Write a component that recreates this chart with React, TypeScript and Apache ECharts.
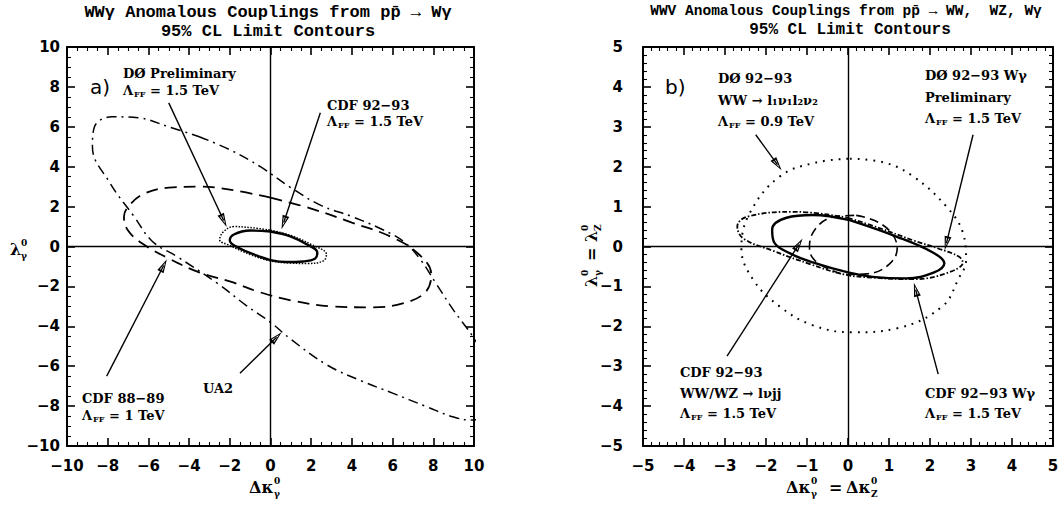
import React, { useEffect, useRef } from 'react';
import * as echarts from 'echarts';

const BLACK = '#000';
const SERIF = '"DejaVu Serif", serif';
const MONO = '"Liberation Mono", monospace';
const SANS = '"DejaVu Sans", sans-serif';

// ---- Panel a: WWγ couplings (Δκγ, λγ) ----
const d0PrelimContour: number[][] = [
  [0, 0.75], [1.0, 0.5], [1.8, 0.1], [2.3, -0.3], [2.2, -0.6], [1.6, -0.75], [0.8, -0.78],
  [0, -0.68], [-0.6, -0.48], [-1.5, -0.1], [-2.0, 0.3], [-1.8, 0.6], [-1.0, 0.8], [0, 0.75],
];
const cdf9293Contour: number[][] = [
  [0, 0.82], [1.0, 0.55], [2.0, 0.1], [2.75, -0.4], [2.6, -0.72], [1.8, -0.85], [1.0, -0.83],
  [0, -0.72], [-1.0, -0.4], [-2.0, 0.05], [-2.5, 0.35], [-2.3, 0.75], [-1.8, 1.0], [-1.0, 0.95], [0, 0.82],
];
const cdf8889Contour: number[][] = [
  [0, 2.45], [2.0, 1.9], [4.0, 1.2], [6.0, 0.45], [7.3, -0.4], [7.9, -1.4], [7.6, -2.3],
  [6.5, -2.85], [5.0, -3.05], [3.0, -3.0], [1.0, -2.7], [-0.5, -2.3], [-2.0, -1.75], [-3.5, -1.3],
  [-5.0, -0.6], [-6.3, 0.15], [-7.0, 0.8], [-7.2, 1.5], [-6.9, 2.1], [-6.2, 2.65], [-5.0, 2.95],
  [-3.5, 3.0], [-2.0, 2.85], [0, 2.45],
];
const ua2Contour: number[][] = [
  [-3.5, 5.5], [-2.0, 4.85], [-0.5, 4.0], [1.0, 2.95], [2.5, 2.05], [4.0, 1.5], [5.5, 0.85],
  [6.6, 0.2], [7.4, -0.7], [8.1, -1.8], [9.0, -3.2], [10.0, -4.6], [10.7, -5.9], [11.0, -7.3],
  [10.6, -8.4], [9.9, -8.7], [9.0, -8.55], [7.6, -8.0], [6.0, -7.35], [4.5, -6.75], [2.8, -5.95],
  [1.0, -4.65], [0, -3.8], [-1.2, -2.95], [-2.6, -1.85], [-4.6, -0.5], [-5.8, 0.25], [-6.7, 1.5],
  [-7.9, 3.2], [-8.75, 5.0], [-8.65, 6.0], [-7.8, 6.5], [-6.5, 6.45], [-5.0, 6.0], [-3.5, 5.5],
];
// arrows: [from, to]
const arrowsA: number[][][] = [
  [[-5.0, 7.2], [-2.3, 1.3]],
  [[2.45, 6.7], [0.65, 1.2]],
  [[-8.05, -6.5], [-5.25, -0.95]],
  [[-1.5, -6.35], [0.3, -4.55]],
];

// ---- Panel b: WWV couplings (Δκ, λ) ----
const d0WWContour: number[][] = [
  [0.05, 2.2], [0.9, 2.1], [1.6, 1.75], [2.4, 1.0], [2.8, 0.35], [2.88, -0.35], [2.7, -0.8],
  [2.3, -1.5], [1.2, -2.05], [0.1, -2.15], [-0.87, -1.97], [-1.67, -1.5], [-2.3, -0.85],
  [-2.6, -0.05], [-2.4, 0.83], [-1.67, 1.75], [-0.8, 2.1], [0.05, 2.2],
];
const d0WgContour: number[][] = [
  [0.04, 0.66], [1.18, 0.25], [2.07, -0.15], [2.35, -0.42], [2.1, -0.65], [1.42, -0.8],
  [0.6, -0.76], [0.0, -0.65], [-0.86, -0.4], [-1.4, -0.18], [-1.8, 0.1], [-1.85, 0.42],
  [-1.5, 0.72], [-0.86, 0.79], [0.04, 0.66],
];
const cdfWgContour: number[][] = [
  [0, 0.72], [0.8, 0.45], [1.6, 0.15], [2.2, -0.05], [2.7, -0.25], [2.8, -0.4], [2.4, -0.67],
  [1.6, -0.82], [0.6, -0.78], [-0.1, -0.7], [-0.9, -0.45], [-1.85, -0.1], [-2.55, 0.2],
  [-2.7, 0.5], [-2.45, 0.75], [-1.3, 0.87], [0, 0.72],
];
const cdfWWWZContour: number[][] = [
  [0.2, 0.78], [0.65, 0.65], [1.05, 0.35], [1.2, -0.05], [1.0, -0.45], [0.5, -0.68], [0, -0.7],
  [-0.5, -0.55], [-0.85, -0.3], [-0.94, 0], [-0.75, 0.5], [-0.3, 0.75], [0.2, 0.78],
];
const arrowsB: number[][][] = [
  [[-2.25, 2.8], [-1.72, 2.05]],
  [[3.05, 2.8], [2.4, 0.08]],
  [[-2.95, -2.75], [-1.2, 0.05]],
  [[2.2, -3.2], [1.65, -1.08]],
];

// axis scales: range, labelled step and minor subdivisions
const ticksA = { min: -10, max: 10, interval: 2, minor: 4 };
const ticksB = { min: -5, max: 5, interval: 1, minor: 5 };

// open triangular arrow head, tip pointing up
const ARROW_HEAD = 'path://M5,0L10,18L0,18Z M5,5L2.6,15.5L7.4,15.5Z';

function axis(t: any, pos: string, gridIndex: number, showLabel: boolean, margin: number) {
  return {
    type: 'value',
    gridIndex,
    position: pos,
    min: t.min,
    max: t.max,
    interval: t.interval,
    axisLine: { show: true, onZero: false, lineStyle: { color: BLACK, width: 2 } },
    axisTick: { show: true, inside: true, length: 8, lineStyle: { color: BLACK, width: 1.6 } },
    minorTick: { show: true, splitNumber: t.minor, length: 4, lineStyle: { color: BLACK, width: 1.1 } },
    splitLine: { show: false },
    axisLabel: {
      show: showLabel,
      margin,
      color: BLACK,
      fontFamily: SANS,
      fontWeight: 'bold',
      fontSize: 15,
      showMinLabel: true,
      showMaxLabel: true,
      formatter: (v: number) => String(v).replace('-', '−'),
    },
  };
}

function contour(data: number[][], grid: number, lineStyle: any) {
  return {
    type: 'line',
    data,
    xAxisIndex: grid * 2,
    yAxisIndex: grid * 2,
    smooth: 0.4,
    symbol: 'none',
    silent: true,
    clip: true,
    z: 3,
    lineStyle: { color: BLACK, ...lineStyle },
  };
}

function guides(grid: number, arrows: number[][][]) {
  return {
    type: 'line',
    data: [],
    xAxisIndex: grid * 2,
    yAxisIndex: grid * 2,
    silent: true,
    markLine: {
      silent: true,
      animation: false,
      symbol: ['none', 'none'],
      label: { show: false },
      lineStyle: { color: BLACK, width: 1.4, type: 'solid' },
      itemStyle: { color: BLACK },
      emphasis: { disabled: true },
      data: [
        { xAxis: 0 },
        { yAxis: 0 },
        ...arrows.map(([a, b]) => [
          { coord: a, symbol: 'none' },
          { coord: b, symbol: ARROW_HEAD, symbolSize: [7, 14] },
        ]),
      ],
    },
  };
}

function txt(x: number, y: number, text: string, size = 13, family = SERIF, align = 'left', weight = 'bold') {
  return {
    type: 'text',
    x,
    y,
    z: 10,
    style: {
      text,
      fill: BLACK,
      fontFamily: family,
      fontSize: size,
      fontWeight: weight,
      textAlign: align,
      textVerticalAlign: 'middle',
    },
  };
}

function lambdaFF(x: number, y: number, rest: string) {
  return {
    type: 'text',
    x,
    y,
    z: 10,
    style: {
      text: `{a|Λ}{s|FF}{a| ${rest}}`,
      fill: BLACK,
      textVerticalAlign: 'middle',
      rich: {
        a: { fontFamily: SERIF, fontWeight: 'bold', fontSize: 13 },
        s: { fontFamily: SERIF, fontWeight: 'bold', fontSize: 8, padding: [7, 0, 0, 1] },
      },
    },
  };
}

// symbol with stacked superscript and subscript
function supSub(x: number, y: number, base: string, sup: string, sub: string, size = 16) {
  const w = base === 'λ' ? 11 : 25;
  return [
    txt(x, y, base, size, SERIF),
    txt(x + w, y - 6, sup, 9, SERIF),
    txt(x + w, y + 7, sub, 9, SERIF),
  ];
}

export default function App() {
  const ref = useRef<HTMLDivElement>(null);

  useEffect(() => {
    if (!ref.current) return;
    const chart = echarts.init(ref.current, undefined, { renderer: 'svg' });

    const labels: any[] = [
      // titles
      txt(268, 12, 'WWγ Anomalous Couplings from pp̄ → Wγ', 17, MONO, 'center'),
      txt(268, 31, '95% CL Limit Contours', 17, MONO, 'center'),
      txt(846, 11, 'WWV Anomalous Couplings from pp̄ → WW,  WZ, Wγ', 14.5, MONO, 'center'),
      txt(850, 30, '95% CL Limit Contours', 16, MONO, 'center'),
      // panel a annotations
      txt(90, 87, 'a)', 20, SANS, 'left', 'normal'),
      txt(123, 73, 'DØ Preliminary'),
      lambdaFF(123, 90, '= 1.5 TeV'),
      txt(327, 105, 'CDF 92−93'),
      lambdaFF(327, 121, '= 1.5 TeV'),
      txt(82, 398, 'CDF 88−89'),
      lambdaFF(82, 415, '= 1 TeV'),
      txt(203, 388, 'UA2'),
      // panel b annotations
      txt(665, 87, 'b)', 20, SANS, 'left', 'normal'),
      txt(718, 78, 'DØ 92−93'),
      txt(718, 100, 'WW → l₁ν₁l₂ν₂'),
      lambdaFF(718, 121, '= 0.9 TeV'),
      txt(925, 75, 'DØ 92−93 Wγ'),
      txt(925, 97, 'Preliminary'),
      lambdaFF(925, 118, '= 1.5 TeV'),
      txt(680, 372, 'CDF 92−93'),
      txt(680, 393, 'WW/WZ → lνjj'),
      lambdaFF(680, 413, '= 1.5 TeV'),
      txt(925, 393, 'CDF 92−93 Wγ'),
      lambdaFF(925, 413, '= 1.5 TeV'),
      // axis titles
      ...supSub(249, 487, 'Δκ', '0', 'γ'),
      ...supSub(786, 487, 'Δκ', '0', 'γ'),
      txt(829, 487, '=', 16, SERIF),
      ...supSub(846, 487, 'Δκ', '0', 'Z'),
      ...supSub(10, 249, 'λ', '0', 'γ'),
      {
        type: 'group',
        x: 591,
        y: 248,
        rotation: Math.PI / 2,
        children: [
          ...supSub(-39, 0, 'λ', '0', 'γ'),
          txt(-13, 0, '=', 16, SERIF),
          ...supSub(6, 0, 'λ', '0', 'Z'),
        ],
      },
    ];

    chart.setOption({
      animation: false,
      backgroundColor: '#fff',
      grid: [
        { left: 67, top: 47, width: 407, height: 399 },
        { left: 643, top: 47, width: 410, height: 399 },
      ],
      xAxis: [
        axis(ticksA, 'bottom', 0, true, 12),
        axis(ticksA, 'top', 0, false, 8),
        axis(ticksB, 'bottom', 1, true, 12),
        axis(ticksB, 'top', 1, false, 8),
      ],
      yAxis: [
        axis(ticksA, 'left', 0, true, 7),
        axis(ticksA, 'right', 0, false, 8),
        axis(ticksB, 'left', 1, true, 20),
        axis(ticksB, 'right', 1, false, 8),
      ],
      series: [
        guides(0, arrowsA),
        contour(ua2Contour, 0, { width: 1.5, type: [10, 5, 2, 5] }),
        contour(cdf8889Contour, 0, { width: 1.8, type: [12, 7] }),
        contour(cdf9293Contour, 0, { width: 1.5, type: [1.5, 1.5] }),
        contour(d0PrelimContour, 0, { width: 2.4, type: 'solid' }),
        guides(1, arrowsB),
        contour(d0WWContour, 1, { width: 2, type: [1.8, 6] }),
        contour(cdfWWWZContour, 1, { width: 1.6, type: [9, 5] }),
        contour(cdfWgContour, 1, { width: 1.8, type: [5, 2, 1.5, 2] }),
        contour(d0WgContour, 1, { width: 2.4, type: 'solid' }),
      ],
      graphic: labels,
    });

    return () => chart.dispose();
  }, []);

  return (
    <div
      ref={ref}
      style={{ position: 'fixed', left: 0, top: 0, width: 1064, height: 518, background: '#fff' }}
    />
  );
}
